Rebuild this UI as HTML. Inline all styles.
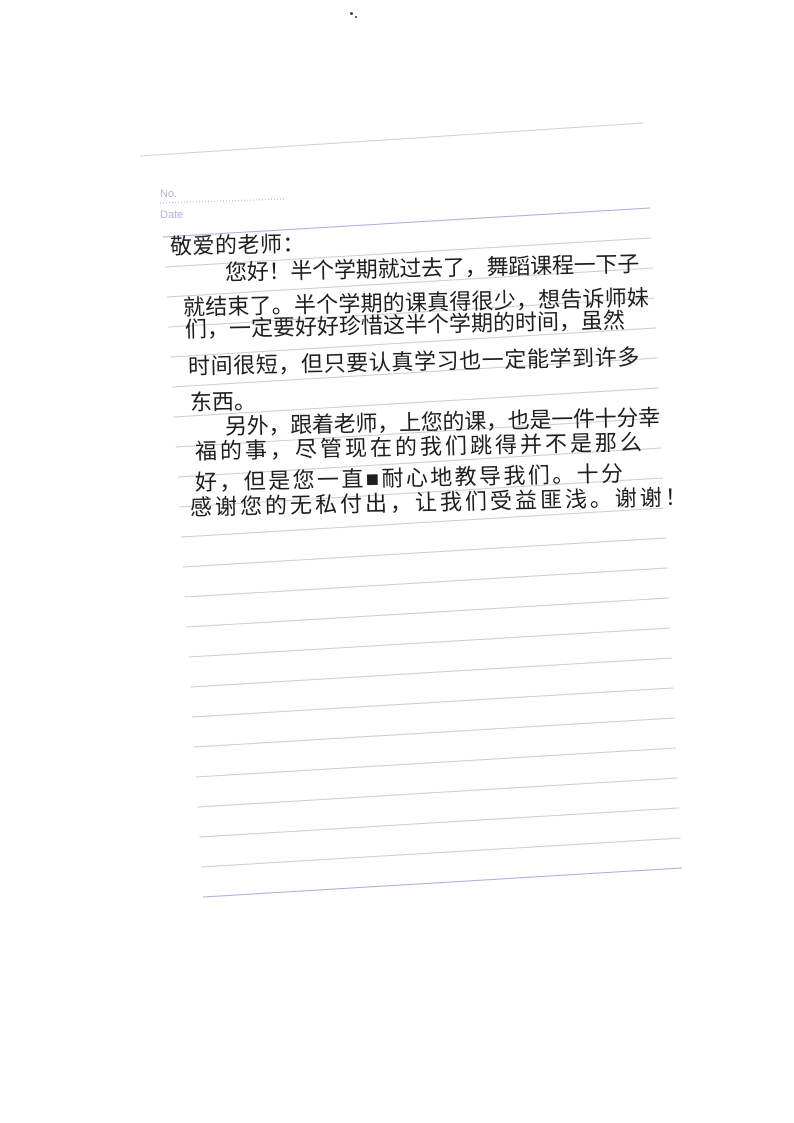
<!DOCTYPE html>
<html><head><meta charset="utf-8"><style>
html,body{margin:0;padding:0;background:#fff;}
body{width:794px;height:1123px;position:relative;overflow:hidden;}
.t{position:absolute;font-family:"Liberation Sans","Noto Sans CJK SC","WenQuanYi Zen Hei",sans-serif;font-size:22px;line-height:26px;color:#1e1e1e;white-space:nowrap;transform:rotate(-1.2deg);transform-origin:left center;}
.h{position:absolute;font-family:"Liberation Sans",sans-serif;font-size:11px;color:#b8b2d8;}
</style></head><body>
<svg width="794" height="1123" style="position:absolute;left:0;top:0">
<line x1="140" y1="156" x2="643" y2="123" stroke="#cfcfcf" stroke-width="1"/>
<line x1="160" y1="203" x2="285" y2="199" stroke="#b8b2d8" stroke-width="1" stroke-dasharray="1,2"/>
<g id="lines"></g>
</svg>
<div class="h" style="left:160px;top:188px">No.</div>
<div class="h" style="left:160px;top:209px">Date</div>
<div style="position:absolute;left:350px;top:12px;width:3px;height:3px;background:#444;border-radius:50%"></div>
<div style="position:absolute;left:355px;top:16px;width:2px;height:2px;background:#666"></div>

<div class="t" style="left:170px;top:234px;letter-spacing:0.5px">敬爱的老师：</div>
<div class="t" style="left:225px;top:260px;letter-spacing:-0.2px">您好！半个学期就过去了，舞蹈课程一下子</div>
<div class="t" style="left:183px;top:295px;letter-spacing:0.2px">就结束了。半个学期的课真得很少，想告诉师妹</div>
<div class="t" style="left:185px;top:317px;letter-spacing:0px">们，一定要好好珍惜这半个学期的时间，虽然</div>
<div class="t" style="left:188px;top:354px;letter-spacing:0.6px">时间很短，但只要认真学习也一定能学到许多</div>
<div class="t" style="left:190px;top:390px;letter-spacing:0px">东西。</div>
<div class="t" style="left:225px;top:414px;letter-spacing:-0.25px">另外，跟着老师，上您的课，也是一件十分幸</div>
<div class="t" style="left:195px;top:439px;letter-spacing:3px">福的事，尽管现在的我们跳得并不是那么</div>
<div class="t" style="left:195px;top:470px;letter-spacing:2.4px">好，但是您一直■耐心地教导我们。十分</div>
<div class="t" style="left:190px;top:495px;letter-spacing:3px">感谢您的无私付出，让我们受益匪浅。谢谢！</div>

<script>
var g=document.getElementById('lines'),s='';
for(var i=0;i<=22;i++){
 var lx=163+i*40/22, ly=237+i*30, rx=650+i*32/22, ry=ly-29;
 var c=(i==0||i==22)?'#b3a9e0':'#cdcdcd';
 s+='<line x1="'+lx+'" y1="'+ly+'" x2="'+rx+'" y2="'+ry+'" stroke="'+c+'" stroke-width="1"/>';
}
g.innerHTML=s;
</script>
</body></html>
